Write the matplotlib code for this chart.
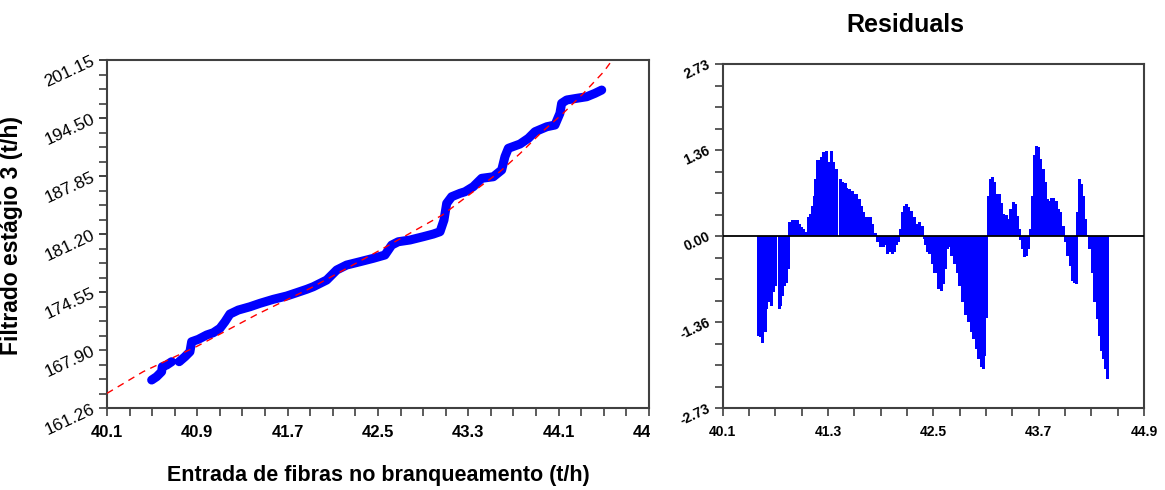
import numpy as np
import matplotlib.pyplot as plt
from matplotlib.ticker import AutoMinorLocator
from matplotlib.transforms import Bbox, TransformedBbox

plt.rcParams['font.family'] = ['Liberation Sans', 'DejaVu Sans']

# fibre feed (t/h) vs stage-3 filtrate (t/h) (nan = gap)
feed_x = [40.496, 40.540, 40.584, 40.590, 40.629, 40.673, np.nan,
          40.740, 40.791, 40.835, 40.850, 40.909, 40.983, 41.042, 41.101,
          41.145, 41.189, 41.263, 41.367, 41.455, 41.573, 41.692, 41.780,
          41.869, 41.927, 42.046, 42.135, 42.223, 42.341, 42.459, 42.562,
          42.622, 42.680, 42.784, 42.902, 42.990, 43.050, 43.085, 43.109,
          43.153, 43.227, 43.271, 43.344, 43.419, 43.522, 43.596, 43.625,
          43.655, 43.758, 43.832, 43.891, 43.995, 44.068, 44.112, 44.127,
          44.172, 44.260, 44.349, 44.422, 44.482]
filtrate_y = [164.47, 164.85, 165.42, 165.99, 166.19, 166.57, np.nan,
              166.57, 167.14, 167.71, 168.86, 169.13, 169.63, 169.89, 170.40,
              171.15, 172.03, 172.49, 172.87, 173.26, 173.72, 174.10, 174.48,
              174.87, 175.16, 175.93, 177.08, 177.65, 178.03, 178.42, 178.80,
              179.94, 180.32, 180.52, 180.90, 181.20, 181.47, 182.81, 184.72,
              185.48, 185.87, 186.05, 186.63, 187.59, 187.77, 188.54, 190.07,
              191.03, 191.52, 192.17, 192.93, 193.50, 193.70, 195.04, 196.19,
              196.57, 196.76, 196.94, 197.33, 197.71]

# fitted curve (red dashed)
fit_x = [40.10, 40.42, 40.90, 41.43, 41.90, 42.52, 43.07, 43.58, 43.76,
         43.94, 44.14, 44.32, 44.50, 44.58]
fit_y = [162.94, 165.42, 168.35, 172.00, 174.98, 179.37, 183.38, 188.35,
         190.45, 192.75, 195.04, 197.33, 199.81, 201.23]

# residuals
res_x = [40.506, 40.533, 40.556, 40.582, 40.601, 40.628, 40.650, 40.673, 40.696,
         40.741, 40.761, 40.779, 40.798, 40.821, 40.844, 40.865,
         40.900, 40.924, 40.947, 40.977, 41.000, 41.018, 41.038, 41.075, 41.103,
         41.121, 41.140, 41.160, 41.182, 41.205, 41.228, 41.251, 41.285, 41.311,
         41.334, 41.360, 41.391, 41.440, 41.467, 41.493, 41.513, 41.539, 41.573,
         41.596, 41.627, 41.656, 41.679, 41.702, 41.725, 41.759, 41.782,
         41.805, 41.835, 41.866, 41.896, 41.926, 41.953, 41.980, 42.006, 42.029,
         42.055, 42.082, 42.105, 42.124, 42.143, 42.166, 42.192, 42.219, 42.253,
         42.283, 42.314, 42.344, 42.371, 42.393, 42.413, 42.431, 42.458, 42.485,
         42.511, 42.538, 42.561, 42.587, 42.613, 42.636, 42.659, 42.682, 42.709,
         42.739, 42.769, 42.800, 42.830, 42.861, 42.898, 42.929, 42.960, 42.989,
         43.017, 43.043, 43.066, 43.085, 43.103,
         43.126, 43.145, 43.168, 43.194, 43.222, 43.248, 43.271, 43.302, 43.331,
         43.359, 43.381, 43.408, 43.434, 43.457, 43.476, 43.495, 43.513, 43.536,
         43.564, 43.586, 43.609, 43.627, 43.647, 43.670, 43.696, 43.719, 43.749,
         43.776, 43.798, 43.821, 43.848, 43.871, 43.901, 43.928, 43.954, 43.981,
         44.003, 44.031, 44.057, 44.080, 44.106, 44.129, 44.145, 44.163, 44.186,
         44.209, 44.231, 44.254, 44.277, 44.316, 44.339, 44.365, 44.391, 44.410,
         44.436, 44.458, 44.486]
res_vals = [-1.58, -1.61, -1.69, -1.53, -1.16, -1.05, -1.11, -0.89, -0.79,
            -1.16, -1.11, -0.95, -0.79, -0.74, -0.52, 0.23,
            0.25, 0.25, 0.25, 0.19, 0.14, 0.11, 0.06, 0.31, 0.35,
            0.48, 0.64, 0.90, 1.20, 1.20, 1.25, 1.34, 1.35, 1.17,
            1.35, 1.17, 1.06, 0.90, 0.85, 0.84, 0.77, 0.75, 0.72,
            0.67, 0.67, 0.59, 0.48, 0.38, 0.31, 0.30, 0.30,
            0.19, 0.05, -0.10, -0.18, -0.18, -0.15, -0.29, -0.26, -0.29,
            -0.26, -0.15, -0.10, 0.11, 0.38, 0.48, 0.51, 0.46, 0.40,
            0.31, 0.19, 0.23, 0.16, -0.05, -0.15, -0.26, -0.29, -0.44,
            -0.58, -0.58, -0.84, -0.87, -0.76, -0.52, -0.21, -0.18, -0.31,
            -0.44, -0.58, -0.79, -1.05, -1.26, -1.37, -1.53, -1.63, -1.79,
            -1.95, -2.08, -2.11, -1.90, -1.30,
            0.64, 0.90, 0.93, 0.85, 0.67, 0.67, 0.53, 0.35, 0.33,
            0.27, 0.43, 0.54, 0.51, 0.32, 0.11, -0.07, -0.21, -0.34,
            -0.31, -0.21, 0.11, 0.64, 1.28, 1.43, 1.41, 1.22, 1.06,
            0.85, 0.59, 0.56, 0.60, 0.61, 0.56, 0.43, 0.38, 0.16,
            -0.10, -0.31, -0.47, -0.71, -0.74, -0.76, 0.38, 0.90, 0.83,
            0.64, 0.27, 0.02, -0.21, -0.58, -1.05, -1.32, -1.58, -1.82,
            -1.95, -2.11, -2.27]

left_xticks = [40.1, 40.9, 41.7, 42.5, 43.3, 44.1, 44.9]
left_yticks = [161.26, 167.90, 174.55, 181.20, 187.85, 194.50, 201.15]
right_xticks = [40.1, 41.3, 42.5, 43.7, 44.9]
right_yticks = [-2.73, -1.365, 0.0, 1.365, 2.73]
right_ylabels = ["-2.73", "-1.36", "0.00", "1.36", "2.73"]

frame = '#404040'

fig = plt.figure(figsize=(11.65, 4.9), dpi=100)
ax = fig.add_axes([0.0918, 0.1673, 0.4652, 0.7102])
ax_r = fig.add_axes([0.6204, 0.1673, 0.3616, 0.702])

# left: data + fitted curve
ax.plot(feed_x, filtrate_y, color='blue', lw=6.5, solid_capstyle='round',
        solid_joinstyle='round', zorder=2)
ax.plot(fit_x, fit_y, color='red', lw=1, ls=(0, (5, 4)), zorder=3)
ax.set_xlim(40.1, 44.9)
ax.set_ylim(161.26, 201.15)

# right: residual bars (a bit wider than the spacing so they close up)
ax_r.bar(res_x, res_vals, width=0.034, color='blue', linewidth=0, zorder=2)
ax_r.axhline(0, color='black', lw=1.3, zorder=3)
ax_r.set_xlim(40.1, 44.9)
ax_r.set_ylim(-2.73, 2.73)

for a in (ax, ax_r):
    for s in a.spines.values():
        s.set_color(frame)
        s.set_linewidth(1.5)
    a.tick_params(which='both', direction='out', length=6, width=1.2,
                  color=frame, top=False, right=False)
    a.xaxis.set_minor_locator(AutoMinorLocator(4))
    a.yaxis.set_minor_locator(AutoMinorLocator(4))

ax.set_xticks(left_xticks)
ax.set_xticklabels(["%.1f" % v for v in left_xticks], fontsize=12, fontweight='bold')
ax.set_yticks(left_yticks)
ax.set_yticklabels(["%.2f" % v for v in left_yticks], fontsize=12.5, rotation=25,
                   ha='right', va='center', rotation_mode='anchor')
ax.tick_params(axis='x', pad=6)

ax_r.set_xticks(right_xticks)
ax_r.set_xticklabels(["%.1f" % v for v in right_xticks], fontsize=10, fontweight='bold')
ax_r.set_yticks(right_yticks)
ax_r.set_yticklabels(right_ylabels, fontsize=10, fontweight='bold', rotation=25,
                     ha='right', va='center', rotation_mode='anchor')
ax_r.tick_params(axis='x', pad=6)

# last label of left plot is cut by the panel edge in the original
clip = TransformedBbox(Bbox([[0, 0], [650 / 1165, 1]]), fig.transFigure)
last = ax.get_xticklabels()[-1]
last.set_clip_box(clip)
last.set_clip_on(True)

ax.set_ylabel('Filtrado estágio 3 (t/h)', fontsize=16.5, fontweight='bold')
ax.yaxis.set_label_coords(-0.155, 0.497)
ax.set_xlabel('Entrada de fibras no branqueamento (t/h)', fontsize=15.5, fontweight='bold')
ax.xaxis.set_label_coords(0.5, -0.165)

fig.text(0.777, 0.948, 'Residuals', fontsize=18, fontweight='bold',
         ha='center', va='center')

fig.savefig('out.png', dpi=100)
